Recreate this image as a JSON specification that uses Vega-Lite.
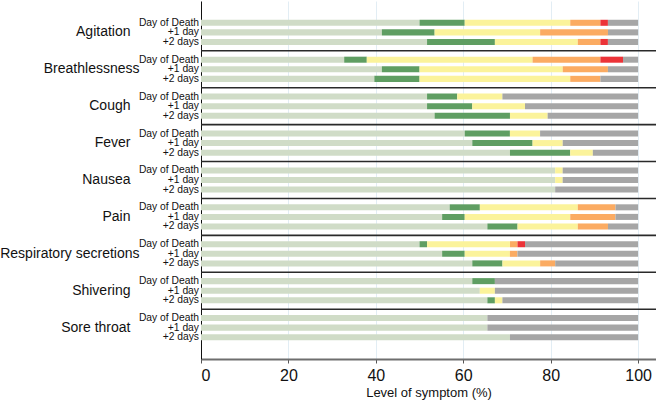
{
  "$schema": "https://vega.github.io/schema/vega-lite/v6.json",
  "width": 455,
  "height": 358,
  "autosize": {"type": "none"},
  "padding": {"left": 201, "top": 1, "right": 0, "bottom": 43},
  "config": {
    "view": {"stroke": null},
    "font": "Liberation Sans",
    "text": {"font": "Liberation Sans"}
  },
  "datasets": {
    "bars": [
      {"symptom":"Agitation","day":"Day of Death","level":1,"pct":50.00},
      {"symptom":"Agitation","day":"Day of Death","level":2,"pct":10.34},
      {"symptom":"Agitation","day":"Day of Death","level":3,"pct":24.14},
      {"symptom":"Agitation","day":"Day of Death","level":4,"pct":6.90},
      {"symptom":"Agitation","day":"Day of Death","level":5,"pct":1.72},
      {"symptom":"Agitation","day":"Day of Death","level":6,"pct":6.90},
      {"symptom":"Agitation","day":"+1 day","level":1,"pct":41.38},
      {"symptom":"Agitation","day":"+1 day","level":2,"pct":12.07},
      {"symptom":"Agitation","day":"+1 day","level":3,"pct":24.14},
      {"symptom":"Agitation","day":"+1 day","level":4,"pct":15.52},
      {"symptom":"Agitation","day":"+1 day","level":6,"pct":6.90},
      {"symptom":"Agitation","day":"+2 days","level":1,"pct":51.72},
      {"symptom":"Agitation","day":"+2 days","level":2,"pct":15.52},
      {"symptom":"Agitation","day":"+2 days","level":3,"pct":18.97},
      {"symptom":"Agitation","day":"+2 days","level":4,"pct":5.17},
      {"symptom":"Agitation","day":"+2 days","level":5,"pct":1.72},
      {"symptom":"Agitation","day":"+2 days","level":6,"pct":6.90},
      {"symptom":"Breathlessness","day":"Day of Death","level":1,"pct":32.76},
      {"symptom":"Breathlessness","day":"Day of Death","level":2,"pct":5.17},
      {"symptom":"Breathlessness","day":"Day of Death","level":3,"pct":37.93},
      {"symptom":"Breathlessness","day":"Day of Death","level":4,"pct":15.52},
      {"symptom":"Breathlessness","day":"Day of Death","level":5,"pct":5.17},
      {"symptom":"Breathlessness","day":"Day of Death","level":6,"pct":3.45},
      {"symptom":"Breathlessness","day":"+1 day","level":1,"pct":41.38},
      {"symptom":"Breathlessness","day":"+1 day","level":2,"pct":8.62},
      {"symptom":"Breathlessness","day":"+1 day","level":3,"pct":32.76},
      {"symptom":"Breathlessness","day":"+1 day","level":4,"pct":10.34},
      {"symptom":"Breathlessness","day":"+1 day","level":6,"pct":6.90},
      {"symptom":"Breathlessness","day":"+2 days","level":1,"pct":39.66},
      {"symptom":"Breathlessness","day":"+2 days","level":2,"pct":10.34},
      {"symptom":"Breathlessness","day":"+2 days","level":3,"pct":34.48},
      {"symptom":"Breathlessness","day":"+2 days","level":4,"pct":6.90},
      {"symptom":"Breathlessness","day":"+2 days","level":6,"pct":8.62},
      {"symptom":"Cough","day":"Day of Death","level":1,"pct":51.72},
      {"symptom":"Cough","day":"Day of Death","level":2,"pct":6.90},
      {"symptom":"Cough","day":"Day of Death","level":3,"pct":10.34},
      {"symptom":"Cough","day":"Day of Death","level":6,"pct":31.03},
      {"symptom":"Cough","day":"+1 day","level":1,"pct":51.72},
      {"symptom":"Cough","day":"+1 day","level":2,"pct":10.34},
      {"symptom":"Cough","day":"+1 day","level":3,"pct":12.07},
      {"symptom":"Cough","day":"+1 day","level":6,"pct":25.86},
      {"symptom":"Cough","day":"+2 days","level":1,"pct":53.45},
      {"symptom":"Cough","day":"+2 days","level":2,"pct":17.24},
      {"symptom":"Cough","day":"+2 days","level":3,"pct":8.62},
      {"symptom":"Cough","day":"+2 days","level":6,"pct":20.69},
      {"symptom":"Fever","day":"Day of Death","level":1,"pct":60.34},
      {"symptom":"Fever","day":"Day of Death","level":2,"pct":10.34},
      {"symptom":"Fever","day":"Day of Death","level":3,"pct":6.90},
      {"symptom":"Fever","day":"Day of Death","level":6,"pct":22.41},
      {"symptom":"Fever","day":"+1 day","level":1,"pct":62.07},
      {"symptom":"Fever","day":"+1 day","level":2,"pct":13.79},
      {"symptom":"Fever","day":"+1 day","level":3,"pct":6.90},
      {"symptom":"Fever","day":"+1 day","level":6,"pct":17.24},
      {"symptom":"Fever","day":"+2 days","level":1,"pct":70.69},
      {"symptom":"Fever","day":"+2 days","level":2,"pct":13.79},
      {"symptom":"Fever","day":"+2 days","level":3,"pct":5.17},
      {"symptom":"Fever","day":"+2 days","level":6,"pct":10.34},
      {"symptom":"Nausea","day":"Day of Death","level":1,"pct":81.03},
      {"symptom":"Nausea","day":"Day of Death","level":3,"pct":1.72},
      {"symptom":"Nausea","day":"Day of Death","level":6,"pct":17.24},
      {"symptom":"Nausea","day":"+1 day","level":1,"pct":81.03},
      {"symptom":"Nausea","day":"+1 day","level":3,"pct":1.72},
      {"symptom":"Nausea","day":"+1 day","level":6,"pct":17.24},
      {"symptom":"Nausea","day":"+2 days","level":1,"pct":81.03},
      {"symptom":"Nausea","day":"+2 days","level":6,"pct":18.97},
      {"symptom":"Pain","day":"Day of Death","level":1,"pct":56.90},
      {"symptom":"Pain","day":"Day of Death","level":2,"pct":6.90},
      {"symptom":"Pain","day":"Day of Death","level":3,"pct":22.41},
      {"symptom":"Pain","day":"Day of Death","level":4,"pct":8.62},
      {"symptom":"Pain","day":"Day of Death","level":6,"pct":5.17},
      {"symptom":"Pain","day":"+1 day","level":1,"pct":55.17},
      {"symptom":"Pain","day":"+1 day","level":2,"pct":5.17},
      {"symptom":"Pain","day":"+1 day","level":3,"pct":24.14},
      {"symptom":"Pain","day":"+1 day","level":4,"pct":10.34},
      {"symptom":"Pain","day":"+1 day","level":6,"pct":5.17},
      {"symptom":"Pain","day":"+2 days","level":1,"pct":65.52},
      {"symptom":"Pain","day":"+2 days","level":2,"pct":6.90},
      {"symptom":"Pain","day":"+2 days","level":3,"pct":13.79},
      {"symptom":"Pain","day":"+2 days","level":4,"pct":6.90},
      {"symptom":"Pain","day":"+2 days","level":6,"pct":6.90},
      {"symptom":"Respiratory secretions","day":"Day of Death","level":1,"pct":50.00},
      {"symptom":"Respiratory secretions","day":"Day of Death","level":2,"pct":1.72},
      {"symptom":"Respiratory secretions","day":"Day of Death","level":3,"pct":18.97},
      {"symptom":"Respiratory secretions","day":"Day of Death","level":4,"pct":1.72},
      {"symptom":"Respiratory secretions","day":"Day of Death","level":5,"pct":1.72},
      {"symptom":"Respiratory secretions","day":"Day of Death","level":6,"pct":25.86},
      {"symptom":"Respiratory secretions","day":"+1 day","level":1,"pct":55.17},
      {"symptom":"Respiratory secretions","day":"+1 day","level":2,"pct":5.17},
      {"symptom":"Respiratory secretions","day":"+1 day","level":3,"pct":10.34},
      {"symptom":"Respiratory secretions","day":"+1 day","level":4,"pct":1.72},
      {"symptom":"Respiratory secretions","day":"+1 day","level":6,"pct":27.59},
      {"symptom":"Respiratory secretions","day":"+2 days","level":1,"pct":62.07},
      {"symptom":"Respiratory secretions","day":"+2 days","level":2,"pct":6.90},
      {"symptom":"Respiratory secretions","day":"+2 days","level":3,"pct":8.62},
      {"symptom":"Respiratory secretions","day":"+2 days","level":4,"pct":3.45},
      {"symptom":"Respiratory secretions","day":"+2 days","level":6,"pct":18.97},
      {"symptom":"Shivering","day":"Day of Death","level":1,"pct":62.07},
      {"symptom":"Shivering","day":"Day of Death","level":2,"pct":5.17},
      {"symptom":"Shivering","day":"Day of Death","level":6,"pct":32.76},
      {"symptom":"Shivering","day":"+1 day","level":1,"pct":63.79},
      {"symptom":"Shivering","day":"+1 day","level":3,"pct":3.45},
      {"symptom":"Shivering","day":"+1 day","level":6,"pct":32.76},
      {"symptom":"Shivering","day":"+2 days","level":1,"pct":65.52},
      {"symptom":"Shivering","day":"+2 days","level":2,"pct":1.72},
      {"symptom":"Shivering","day":"+2 days","level":3,"pct":1.72},
      {"symptom":"Shivering","day":"+2 days","level":6,"pct":31.03},
      {"symptom":"Sore throat","day":"Day of Death","level":1,"pct":65.52},
      {"symptom":"Sore throat","day":"Day of Death","level":6,"pct":34.48},
      {"symptom":"Sore throat","day":"+1 day","level":1,"pct":65.52},
      {"symptom":"Sore throat","day":"+1 day","level":6,"pct":34.48},
      {"symptom":"Sore throat","day":"+2 days","level":1,"pct":70.69},
      {"symptom":"Sore throat","day":"+2 days","level":6,"pct":29.31}
    ],
    "groups": [
      {"symptom":"Breathlessness"},
      {"symptom":"Cough"},
      {"symptom":"Fever"},
      {"symptom":"Nausea"},
      {"symptom":"Pain"},
      {"symptom":"Respiratory secretions"},
      {"symptom":"Shivering"},
      {"symptom":"Sore throat"}
    ]
  },
  "data": {"name": "bars"},
  "encoding": {
    "y": {
      "field": "symptom",
      "type": "nominal",
      "sort": ["Agitation","Breathlessness","Cough","Fever","Nausea","Pain","Respiratory secretions","Shivering","Sore throat"],
      "scale": {"paddingInner": 0, "paddingOuter": 0.35},
      "axis": {
        "title": null,
        "ticks": false,
        "domain": true,
        "domainColor": "#111111",
        "domainWidth": 1,
        "labelFontSize": 14,
        "labelColor": "#111111",
        "labelFont": "Liberation Sans",
        "labelAlign": "right",
        "labelPadding": {"condition": {"test": "datum.label == 'Breathlessness' || datum.label == 'Respiratory secretions'", "value": 62}, "value": 71}
      }
    }
  },
  "layer": [
    {
      "mark": {"type": "bar"},
      "encoding": {
        "x": {
          "field": "pct",
          "type": "quantitative",
          "stack": "zero",
          "scale": {"domain": [0, 104.1], "nice": false, "zero": true},
          "axis": {
            "values": [0, 20, 40, 60, 80, 100],
            "title": "Level of symptom (%)",
            "titleFontSize": 13,
            "titleFontWeight": "normal",
            "titleColor": "#111111",
            "titleFont": "Liberation Sans",
            "titlePadding": 3,
            "labelFontSize": 16,
            "labelColor": "#111111",
            "labelFont": "Liberation Sans",
            "labelPadding": 4,
            "grid": true,
            "gridColor": "#e2edf4",
            "gridWidth": 1,
            "tickSize": 4,
            "tickColor": "#555555",
            "domainColor": "#6e6e6e",
            "domainWidth": 2
          }
        },
        "yOffset": {
          "field": "day",
          "type": "nominal",
          "sort": ["Day of Death", "+1 day", "+2 days"],
          "scale": {"paddingInner": 0.37, "paddingOuter": 0.61}
        },
        "color": {
          "field": "level",
          "type": "ordinal",
          "scale": {"domain": [1, 2, 3, 4, 5, 6], "range": ["#d0dcc7", "#5f9e62", "#fbf39b", "#fbab62", "#ec3338", "#a6a6a6"]},
          "legend": null
        },
        "order": {"field": "level", "type": "quantitative", "sort": "ascending"}
      }
    },
    {
      "transform": [{"filter": "datum.level == 1"}],
      "mark": {"type": "text", "align": "right", "baseline": "middle", "dx": -2, "fontSize": 10.3, "color": "#111111", "font": "Liberation Sans"},
      "encoding": {
        "x": {"datum": 0, "type": "quantitative"},
        "yOffset": {
          "field": "day",
          "type": "nominal",
          "sort": ["Day of Death", "+1 day", "+2 days"],
          "scale": {"paddingInner": 0.37, "paddingOuter": 0.61}
        },
        "text": {"field": "day"}
      }
    },
    {
      "data": {"name": "groups"},
      "mark": {"type": "rule", "color": "#2a2a2a", "strokeWidth": 1.6},
      "encoding": {
        "y": {"field": "symptom", "type": "nominal", "bandPosition": 0, "sort": ["Agitation","Breathlessness","Cough","Fever","Nausea","Pain","Respiratory secretions","Shivering","Sore throat"]}
      }
    }
  ]
}
